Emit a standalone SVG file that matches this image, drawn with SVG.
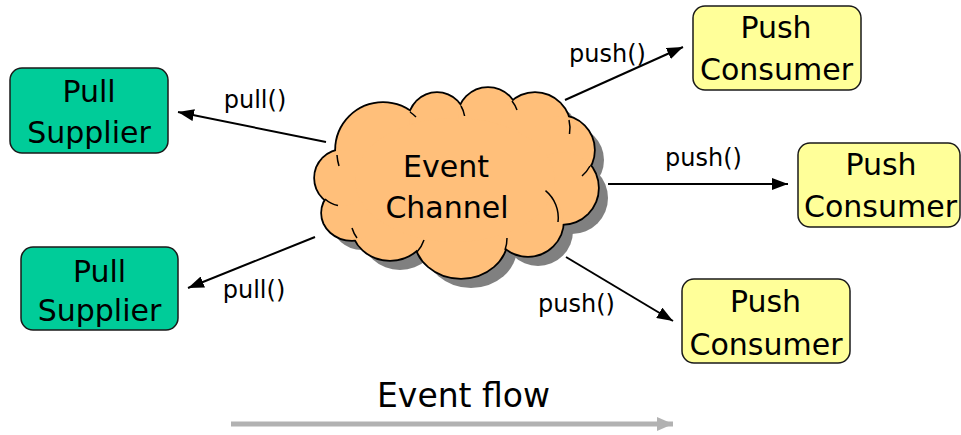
<svg xmlns="http://www.w3.org/2000/svg" xmlns:xlink="http://www.w3.org/1999/xlink" width="961" height="435" viewBox="0 0 961 435">
<style>
  .node-text { font-family: "DejaVu Sans", "Liberation Sans", sans-serif; font-size: 30px; fill: #000; text-anchor: middle; }
  .label { font-family: "DejaVu Sans", "Liberation Sans", sans-serif; font-size: 24px; fill: #000; text-anchor: middle; }
  .flow-text { font-family: "DejaVu Sans", "Liberation Sans", sans-serif; font-size: 33px; fill: #000; text-anchor: middle; }
  .supplier { fill: #00CC99; stroke: #1a1a1a; stroke-width: 1.5; }
  .consumer { fill: #FFFF99; stroke: #1a1a1a; stroke-width: 1.5; }
  .conn { stroke: #000; stroke-width: 2; fill: none; marker-end: url(#arrow); }
  .inner { stroke: #000; stroke-width: 1.5; fill: none; }
</style>
<defs>
  <marker id="arrow" markerUnits="userSpaceOnUse" viewBox="0 0 16 12" markerWidth="16" markerHeight="12" refX="16" refY="6" orient="auto">
    <path d="M0,0 L16,6 L0,12 z" fill="#000"/>
  </marker>
  <marker id="grayArrow" markerUnits="userSpaceOnUse" viewBox="0 0 16 14" markerWidth="16" markerHeight="14" refX="16" refY="7" orient="auto">
    <path d="M0,0 L16,7 L0,14 z" fill="#B2B2B2"/>
  </marker>
  <g id="cloudBlob">
    <circle cx="383" cy="150" r="47"/>
    <circle cx="437" cy="121" r="28"/>
    <circle cx="488" cy="118" r="30"/>
    <circle cx="535" cy="128" r="35"/>
    <circle cx="560" cy="150" r="34"/>
    <circle cx="562" cy="188" r="36"/>
    <circle cx="528" cy="221" r="35"/>
    <ellipse cx="461" cy="238" rx="46" ry="40"/>
    <ellipse cx="390" cy="225" rx="38" ry="35"/>
    <ellipse cx="352" cy="213" rx="30" ry="27"/>
    <circle cx="343" cy="178" r="28"/>
    <ellipse cx="455" cy="180" rx="100" ry="62"/>
  </g>
</defs>

<g id="event-channel">
  <use xlink:href="#cloudBlob" href="#cloudBlob" transform="translate(10,10)" fill="#808080"/>
  <use xlink:href="#cloudBlob" href="#cloudBlob" fill="#FFBF7A" stroke="#000" stroke-width="3.5"/>
  <use xlink:href="#cloudBlob" href="#cloudBlob" fill="#FFBF7A"/>
  <path class="inner" d="M410,112 A47,47 0 0 1 416,117"/>
  <path class="inner" d="M461,106 A28,28 0 0 1 464.6,116"/>
  <path class="inner" d="M512,101 A30,30 0 0 1 517,110"/>
  <path class="inner" d="M569,120 A35,35 0 0 1 569.5,134"/>
  <path class="inner" d="M590,166 A34,34 0 0 1 582,176"/>
  <path class="inner" d="M558,222 A35,35 0 0 0 545.5,190.7"/>
  <path class="inner" d="M505,250 A46,40 0 0 0 507,238"/>
  <path class="inner" d="M417,252 A38,35 0 0 0 424,240"/>
  <path class="inner" d="M357,238 A38,35 0 0 1 352,228"/>
  <path class="inner" d="M325,199 A28,28 0 0 0 338,205.6"/>
  <path class="inner" d="M337,155 A47,47 0 0 0 339,166"/>
  <text class="node-text" x="446" y="177">Event</text>
  <text class="node-text" x="447" y="218">Channel</text>
</g>

<g id="pull-supplier-1">
  <rect class="supplier" x="10" y="68" width="158" height="85" rx="12" ry="12"/>
  <text class="node-text" x="89" y="102">Pull</text>
  <text class="node-text" x="89" y="143">Supplier</text>
</g>

<g id="pull-supplier-2">
  <rect class="supplier" x="21" y="247" width="157" height="83" rx="12" ry="12"/>
  <text class="node-text" x="99.5" y="282">Pull</text>
  <text class="node-text" x="99.5" y="321">Supplier</text>
</g>

<g id="push-consumer-1">
  <rect class="consumer" x="693" y="6" width="168" height="84" rx="12" ry="12"/>
  <text class="node-text" x="776" y="38">Push</text>
  <text class="node-text" x="776.5" y="80">Consumer</text>
</g>

<g id="push-consumer-2">
  <rect class="consumer" x="798" y="143" width="162" height="84" rx="12" ry="12"/>
  <text class="node-text" x="881" y="175">Push</text>
  <text class="node-text" x="880.5" y="217">Consumer</text>
</g>

<g id="push-consumer-3">
  <rect class="consumer" x="682" y="279" width="168" height="84" rx="12" ry="12"/>
  <text class="node-text" x="765.5" y="312">Push</text>
  <text class="node-text" x="766" y="355">Consumer</text>
</g>

<g id="connectors">
  <line class="conn" x1="326" y1="142" x2="178" y2="112"/>
  <line class="conn" x1="315" y1="237" x2="188" y2="288"/>
  <line class="conn" x1="565" y1="100" x2="683" y2="47"/>
  <line class="conn" x1="608" y1="184" x2="788" y2="184"/>
  <line class="conn" x1="566" y1="257" x2="673" y2="321"/>
  <line x1="231" y1="424" x2="673" y2="424" stroke="#B2B2B2" stroke-width="5" marker-end="url(#grayArrow)"/>
</g>

<g id="labels">
  <text class="label" x="255" y="108">pull()</text>
  <text class="label" x="254" y="298">pull()</text>
  <text class="label" x="607.5" y="62">push()</text>
  <text class="label" x="703.5" y="166">push()</text>
  <text class="label" x="576.5" y="312">push()</text>
  <text class="flow-text" x="463.5" y="407">Event flow</text>
</g>
</svg>
